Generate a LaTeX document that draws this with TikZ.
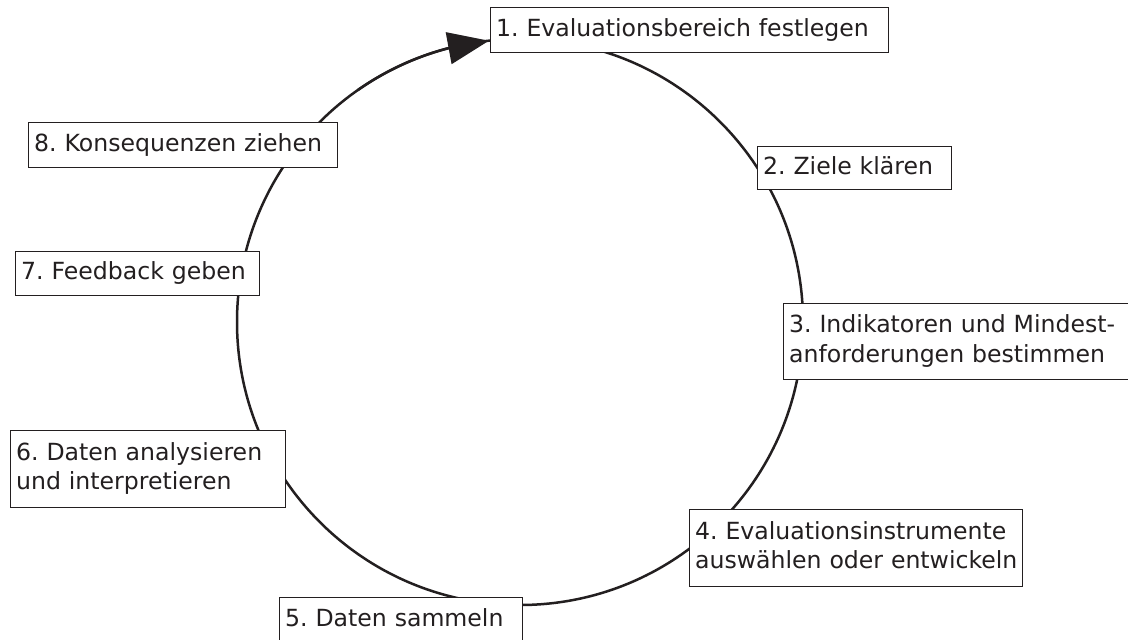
\documentclass[tikz,border=0pt]{standalone}
\usepackage{fontspec}
\setmainfont{DejaVu Sans}
\usetikzlibrary{arrows.meta,bending}
\definecolor{ink}{HTML}{231F20}
\newcommand\bl[1]{\strut\mbox{#1}}
\frenchspacing
\begin{document}
\begin{tikzpicture}[x=1pt,y=-1pt,
  stepbox/.style={draw=ink, line width=1.3pt, fill=white, text=ink, anchor=north west,
    inner xsep=5.5pt, inner ysep=0pt, align=left,
    font=\fontsize{23.6}{29.5}\selectfont},
  ring/.style={draw=ink, line width=2.5pt}]
\clip (0,0) rectangle (1128,640);
\fill[white] (0,0) rectangle (1128,640);
\coordinate (c) at (520,322);
\draw[ring] (c) circle[radius=283];
\draw[ring,-{Triangle[length=41pt,width=32pt,flex]}] ([shift={(235:283)}]c) arc[start angle=235,end angle=263.7,radius=283];
\node[stepbox, minimum width=398pt, minimum height=45pt, text width=387pt] (b1) at (490,7) {\bl{1. Evaluationsbereich festlegen}};
\node[stepbox, minimum width=194pt, minimum height=43pt, text width=183pt] (b2) at (757,146) {\bl{2. Ziele klären}};
\node[stepbox, minimum width=360pt, minimum height=76pt, text width=349pt] (b3) at (783,303) {\bl{3. Indikatoren und Mindest-}\\\bl{anforderungen bestimmen}};
\node[stepbox, minimum width=333pt, minimum height=77pt, text width=322pt] (b4) at (689,509) {\bl{4. Evaluationsinstrumente}\\\bl{auswählen oder entwickeln}};
\node[stepbox, minimum width=243pt, minimum height=45pt, text width=232pt] (b5) at (279,597) {\bl{5. Daten sammeln}};
\node[stepbox, minimum width=275pt, minimum height=77pt, text width=264pt] (b6) at (10,430) {\bl{6. Daten analysieren}\\\bl{und interpretieren}};
\node[stepbox, minimum width=244pt, minimum height=44pt, text width=233pt] (b7) at (15,251) {\bl{7. Feedback geben}};
\node[stepbox, minimum width=309pt, minimum height=45pt, text width=298pt] (b8) at (28,122) {\bl{8. Konsequenzen ziehen}};
\end{tikzpicture}
\end{document}
